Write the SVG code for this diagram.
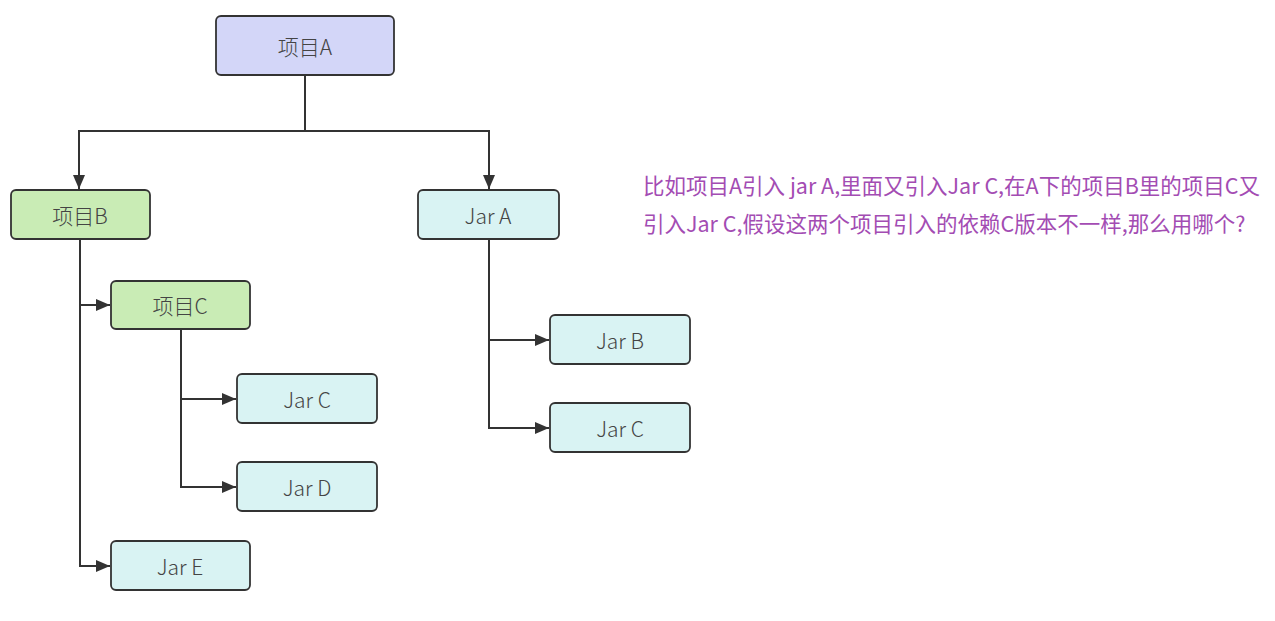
<svg xmlns="http://www.w3.org/2000/svg" width="1275" height="621" viewBox="0 0 1275 621">
<defs>
<marker id="arr" viewBox="0 0 14 12" refX="14" refY="6" markerWidth="14" markerHeight="12" markerUnits="userSpaceOnUse" orient="auto">
<path d="M0,0 L14,6 L0,12 Z" fill="#333"/>
</marker>
<style>
.box{stroke:#333;stroke-width:1.8}
.a{fill:#d3d6f8}
.g{fill:#c9ecb5}
.j{fill:#d9f3f3}
.lbl{font-family:"Noto Sans CJK SC","Noto Sans",sans-serif;font-size:21px;font-weight:300;fill:#444;text-anchor:middle;dominant-baseline:central}
.c{fill:none;stroke:#333;stroke-width:2}
.note{font-family:"Noto Sans CJK SC",sans-serif;font-size:21.5px;fill:#a34cb3}
</style>
</defs>
<rect width="1275" height="621" fill="#fff"/>
<g id="connectors">
<path class="c" d="M305,75 V131 H79 V189" marker-end="url(#arr)"/>
<path class="c" d="M305,131 H489 V189" marker-end="url(#arr)"/>
<path class="c" d="M80,239 V305 H110" marker-end="url(#arr)"/>
<path class="c" d="M80,305 V566 H110" marker-end="url(#arr)"/>
<path class="c" d="M181,329 V399 H236" marker-end="url(#arr)"/>
<path class="c" d="M181,399 V487 H236" marker-end="url(#arr)"/>
<path class="c" d="M489,239 V340 H549" marker-end="url(#arr)"/>
<path class="c" d="M489,340 V428 H549" marker-end="url(#arr)"/>
</g>
<g id="projA"><rect class="box a" x="216" y="16" width="178" height="59" rx="5"/><text class="lbl" x="305" y="45.5">项目A</text></g>
<g id="projB"><rect class="box g" x="11" y="190" width="139" height="49" rx="5"/><text class="lbl" x="80" y="214.5">项目B</text></g>
<g id="jarA"><rect class="box j" x="418" y="190" width="141" height="49" rx="5"/><text class="lbl" x="488" y="214.5">Jar A</text></g>
<g id="projC"><rect class="box g" x="111" y="281" width="139" height="48" rx="5"/><text class="lbl" x="180" y="305">项目C</text></g>
<g id="jarC1"><rect class="box j" x="237" y="374" width="140" height="49" rx="5"/><text class="lbl" x="307" y="398.5">Jar C</text></g>
<g id="jarD"><rect class="box j" x="237" y="462" width="140" height="49" rx="5"/><text class="lbl" x="307" y="486.5">Jar D</text></g>
<g id="jarE"><rect class="box j" x="111" y="541" width="139" height="49" rx="5"/><text class="lbl" x="180" y="565.5">Jar E</text></g>
<g id="jarB"><rect class="box j" x="550" y="315" width="140" height="49" rx="5"/><text class="lbl" x="620" y="339.5">Jar B</text></g>
<g id="jarC2"><rect class="box j" x="550" y="403" width="140" height="49" rx="5"/><text class="lbl" x="620" y="427.5">Jar C</text></g>
<g id="note">
<text class="note" x="643" y="194">比如项目A引入 jar A,里面又引入Jar C,在A下的项目B里的项目C又</text>
<text class="note" x="643" y="232">引入Jar C,假设这两个项目引入的依赖C版本不一样,那么用哪个?</text>
</g>
</svg>
